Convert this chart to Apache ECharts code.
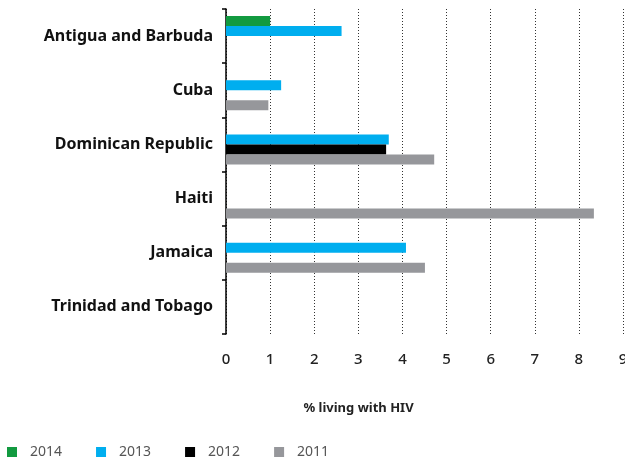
<!DOCTYPE html>
<html>
<head>
<meta charset="utf-8">
<script src="https://cdn.jsdelivr.net/npm/echarts@6/dist/echarts.min.js"></script>
<style>
	html, body { margin: 0; padding: 0; background: #fff; }
	#chart { width: 625px; height: 463px; }
</style>
</head>
<body>
<div id="chart"></div>
<script>
// 国家 + 各年份数值
const countries = ['Antigua and Barbuda', 'Cuba', 'Dominican Republic', 'Haiti', 'Jamaica', 'Trinidad and Tobago']
const years = ['2014', '2013', '2012', '2011']
const v2014 = [1.0, null, null, null, null, null]
const v2013 = [2.62, 1.25, 3.69, null, 4.08, null]
const v2012 = [null, null, 3.63, null, null, null]
const v2011 = [null, 0.96, 4.72, 8.34, 4.51, null]
const xTicks = [0, 1, 2, 3, 4, 5, 6, 7, 8, 9]

const colors = ['#129a40', '#00aeef', '#000000', '#96979b']
const font = 'Noto Sans'

const myChart = echarts.init(document.getElementById('chart'))

let seriesData = [v2014, v2013, v2012, v2011]
let seriesArr = []
for (let i = 0; i < years.length; i++) {
	seriesArr.push({
		name: years[i],
		type: 'bar',
		barWidth: 10,
		barGap: '0%',
		itemStyle: { color: colors[i] },
		data: seriesData[i]
	})
}

let option = {
	animation: false,
	textStyle: { fontFamily: font },
	grid: {
		left: 226,
		right: 2,
		top: 9,
		bottom: 129,
		outerBoundsMode: 'none'
	},
	legend: {
		data: years,
		left: 2,
		top: 440,
		icon: 'rect',
		itemWidth: 10,
		itemHeight: 10,
		itemGap: 34,
		textStyle: { color: '#555', fontSize: 14, fontFamily: font, padding: [0, 0, 0, 8] }
	},
	xAxis: {
		type: 'value',
		min: xTicks[0],
		max: xTicks[xTicks.length - 1],
		interval: 1,
		name: '% living with HIV',
		nameLocation: 'middle',
		nameGap: 68,
		nameTextStyle: { color: '#222', fontSize: 13, fontWeight: 'bold', fontFamily: font, padding: [0, 132, 0, 0] },
		axisLine: { show: false },
		axisTick: { show: false },
		axisLabel: {
			color: '#222',
			fontSize: 15,
			margin: 18,
			fontWeight: 500,
			showMaxLabel: true
		},
		splitLine: {
			show: true,
			lineStyle: { color: '#333', type: [1, 2], width: 1 }
		}
	},
	yAxis: {
		type: 'category',
		inverse: true,
		data: countries,
		axisLine: { show: true, lineStyle: { color: '#000', width: 1.5 } },
		axisTick: { show: true, inside: false, length: 4, lineStyle: { color: '#000', width: 1.5 } },
		axisLabel: {
			color: '#111',
			fontSize: 16,
			fontWeight: 'bold',
			margin: 13
		}
	},
	series: seriesArr
}

myChart.setOption(option)
</script>
</body>
</html>
